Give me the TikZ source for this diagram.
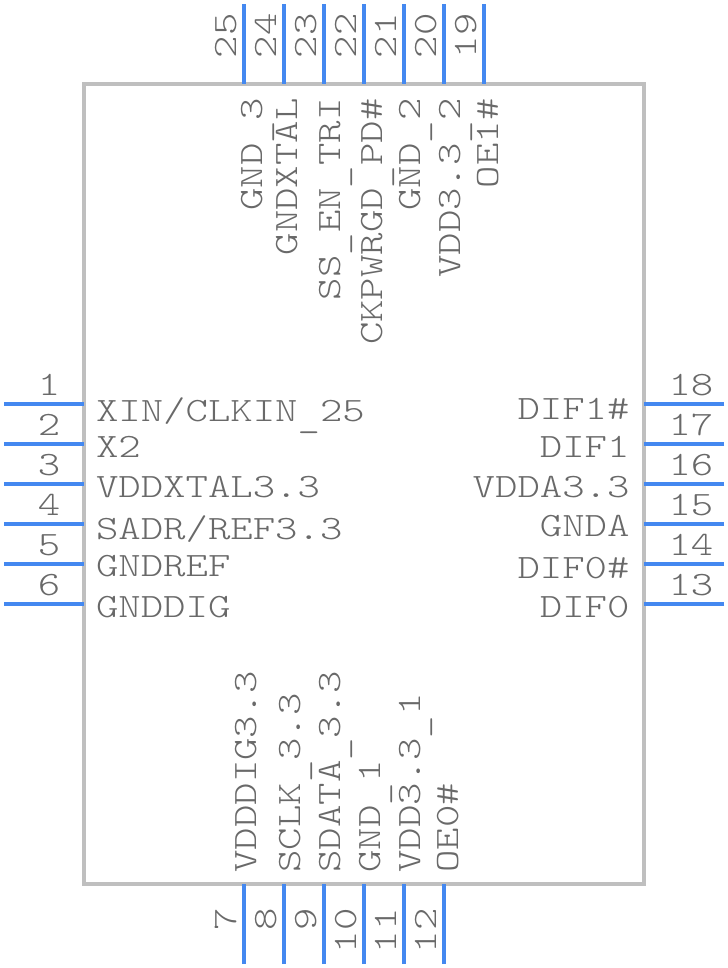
\documentclass[tikz,border=0pt]{standalone}
\usepackage{fontspec}
\newfontfamily\pinfont[FakeStretch=1.25]{Latin Modern Mono Light}
\newcommand{\lowbar}{\raisebox{-4.5pt}{\_}}
\definecolor{pinblue}{RGB}{68,136,240}
\definecolor{bodygray}{RGB}{191,191,191}
\definecolor{labelgray}{RGB}{105,105,105}
\tikzset{
  every picture/.style={line width=0.75pt},
  pinline/.style={color=pinblue,line width=3pt},
  bodyline/.style={color=bodygray,line width=3pt},
  pintext/.style={inner sep=0pt,text=labelgray,font=\pinfont\fontsize{25.6}{30}\selectfont},
  leftpin/.style={pintext,anchor=base west},
  rightpin/.style={pintext,anchor=base east},
  upwest/.style={pintext,anchor=base west,rotate=90},
  upeast/.style={pintext,anchor=base east,rotate=90}
}
\begin{document}
\begin{tikzpicture}[x=0.75pt,y=0.75pt,yscale=-1,xscale=1]
    \useasboundingbox (0,0) rectangle (728,968);

    %Shape: Rectangle body
    \draw [bodyline] (84,84) -- (644,84) -- (644,884) -- (84,884) -- cycle ;

    %Straight Lines left pins
    \coordinate (a1) at (4,404); \coordinate (b1) at (84,404); \draw [pinline] (a1) -- (b1);
    \coordinate (a2) at (4,444); \coordinate (b2) at (84,444); \draw [pinline] (a2) -- (b2);
    \coordinate (a3) at (4,484); \coordinate (b3) at (84,484); \draw [pinline] (a3) -- (b3);
    \coordinate (a4) at (4,524); \coordinate (b4) at (84,524); \draw [pinline] (a4) -- (b4);
    \coordinate (a5) at (4,564); \coordinate (b5) at (84,564); \draw [pinline] (a5) -- (b5);
    \coordinate (a6) at (4,604); \coordinate (b6) at (84,604); \draw [pinline] (a6) -- (b6);
    %Straight Lines bottom pins
    \coordinate (a7) at (244,964); \coordinate (b7) at (244,884); \draw [pinline] (a7) -- (b7);
    \coordinate (a8) at (284,964); \coordinate (b8) at (284,884); \draw [pinline] (a8) -- (b8);
    \coordinate (a9) at (324,964); \coordinate (b9) at (324,884); \draw [pinline] (a9) -- (b9);
    \coordinate (a10) at (364,964); \coordinate (b10) at (364,884); \draw [pinline] (a10) -- (b10);
    \coordinate (a11) at (404,964); \coordinate (b11) at (404,884); \draw [pinline] (a11) -- (b11);
    \coordinate (a12) at (444,964); \coordinate (b12) at (444,884); \draw [pinline] (a12) -- (b12);
    %Straight Lines right pins
    \coordinate (a13) at (724,604); \coordinate (b13) at (644,604); \draw [pinline] (a13) -- (b13);
    \coordinate (a14) at (724,564); \coordinate (b14) at (644,564); \draw [pinline] (a14) -- (b14);
    \coordinate (a15) at (724,524); \coordinate (b15) at (644,524); \draw [pinline] (a15) -- (b15);
    \coordinate (a16) at (724,484); \coordinate (b16) at (644,484); \draw [pinline] (a16) -- (b16);
    \coordinate (a17) at (724,444); \coordinate (b17) at (644,444); \draw [pinline] (a17) -- (b17);
    \coordinate (a18) at (724,404); \coordinate (b18) at (644,404); \draw [pinline] (a18) -- (b18);
    %Straight Lines top pins
    \coordinate (a19) at (484,4); \coordinate (b19) at (484,84); \draw [pinline] (a19) -- (b19);
    \coordinate (a20) at (444,4); \coordinate (b20) at (444,84); \draw [pinline] (a20) -- (b20);
    \coordinate (a21) at (404,4); \coordinate (b21) at (404,84); \draw [pinline] (a21) -- (b21);
    \coordinate (a22) at (364,4); \coordinate (b22) at (364,84); \draw [pinline] (a22) -- (b22);
    \coordinate (a23) at (324,4); \coordinate (b23) at (324,84); \draw [pinline] (a23) -- (b23);
    \coordinate (a24) at (284,4); \coordinate (b24) at (284,84); \draw [pinline] (a24) -- (b24);
    \coordinate (a25) at (244,4); \coordinate (b25) at (244,84); \draw [pinline] (a25) -- (b25);

    % Text Node pin numbers
    \node (n1) at (60.7,395) [rightpin] {1};
    \node (n2) at (60.7,435) [rightpin] {2};
    \node (n3) at (60.7,475) [rightpin] {3};
    \node (n4) at (60.7,515) [rightpin] {4};
    \node (n5) at (60.7,555) [rightpin] {5};
    \node (n6) at (60.7,595) [rightpin] {6};
    \node (n7) at (236,908) [upeast] {7};
    \node (n8) at (276,908) [upeast] {8};
    \node (n9) at (316,908) [upeast] {9};
    \node (n10) at (356,908) [upeast] {10};
    \node (n11) at (396,908) [upeast] {11};
    \node (n12) at (436,908) [upeast] {12};
    \node (n13) at (668,595) [leftpin] {13};
    \node (n14) at (668,555) [leftpin] {14};
    \node (n15) at (668,515) [leftpin] {15};
    \node (n16) at (668,475) [leftpin] {16};
    \node (n17) at (668,435) [leftpin] {17};
    \node (n18) at (668,395) [leftpin] {18};
    \node (n19) at (476.7,58.7) [upwest] {19};
    \node (n20) at (436.7,58.7) [upwest] {20};
    \node (n21) at (396.7,58.7) [upwest] {21};
    \node (n22) at (356.7,58.7) [upwest] {22};
    \node (n23) at (316.7,58.7) [upwest] {23};
    \node (n24) at (276.7,58.7) [upwest] {24};
    \node (n25) at (236.7,58.7) [upwest] {25};

    % Text Node pin names
    \node (xin) at (95.5,421.7) [leftpin] {XIN/CLKIN\lowbar 25};
    \node (xtwo) at (95.5,457) [leftpin] {X2};
    \node (vddxtal) at (95.5,497) [leftpin] {VDDXTAL3.3};
    \node (sadr) at (95.5,539) [leftpin] {SADR/REF3.3};
    \node (gndref) at (95.5,576) [leftpin] {GNDREF};
    \node (gnddig) at (95.5,617) [leftpin] {GNDDIG};
    \node (vdddig) at (256.7,873) [upwest] {VDDDIG3.3};
    \node (sclk) at (300.7,873) [upwest] {SCLK\lowbar 3.3};
    \node (sdata) at (340.7,873) [upwest] {SDATA\lowbar 3.3};
    \node (gndone) at (380.7,873) [upwest] {GND\lowbar 1};
    \node (vddone) at (420.7,873) [upwest] {VDD3.3\lowbar 1};
    \node (oezero) at (458.3,873) [upwest] {OE0\#};
    \node (difzero) at (630,617) [rightpin] {DIF0};
    \node (difzeron) at (630,578) [rightpin] {DIF0\#};
    \node (gnda) at (630,536) [rightpin] {GNDA};
    \node (vdda) at (630,497) [rightpin] {VDDA3.3};
    \node (difone) at (630,457) [rightpin] {DIF1};
    \node (difonen) at (630,419) [rightpin] {DIF1\#};
    \node (oeone) at (498,98) [upeast] {OE1\#};
    \node (vddtwo) at (460.7,98) [upeast] {VDD3.3\lowbar 2};
    \node (gndtwo) at (420.7,98) [upeast] {GND\lowbar 2};
    \node (ckpwrgd) at (382.7,98) [upeast] {CKPWRGD\lowbar PD\#};
    \node (ssen) at (340,98) [upeast] {SS\lowbar EN\lowbar TRI};
    \node (gndxtal) at (297,98) [upeast] {GNDXTAL};
    \node (gndthree) at (262,98) [upeast] {GND\lowbar 3};

\end{tikzpicture}
\end{document}
